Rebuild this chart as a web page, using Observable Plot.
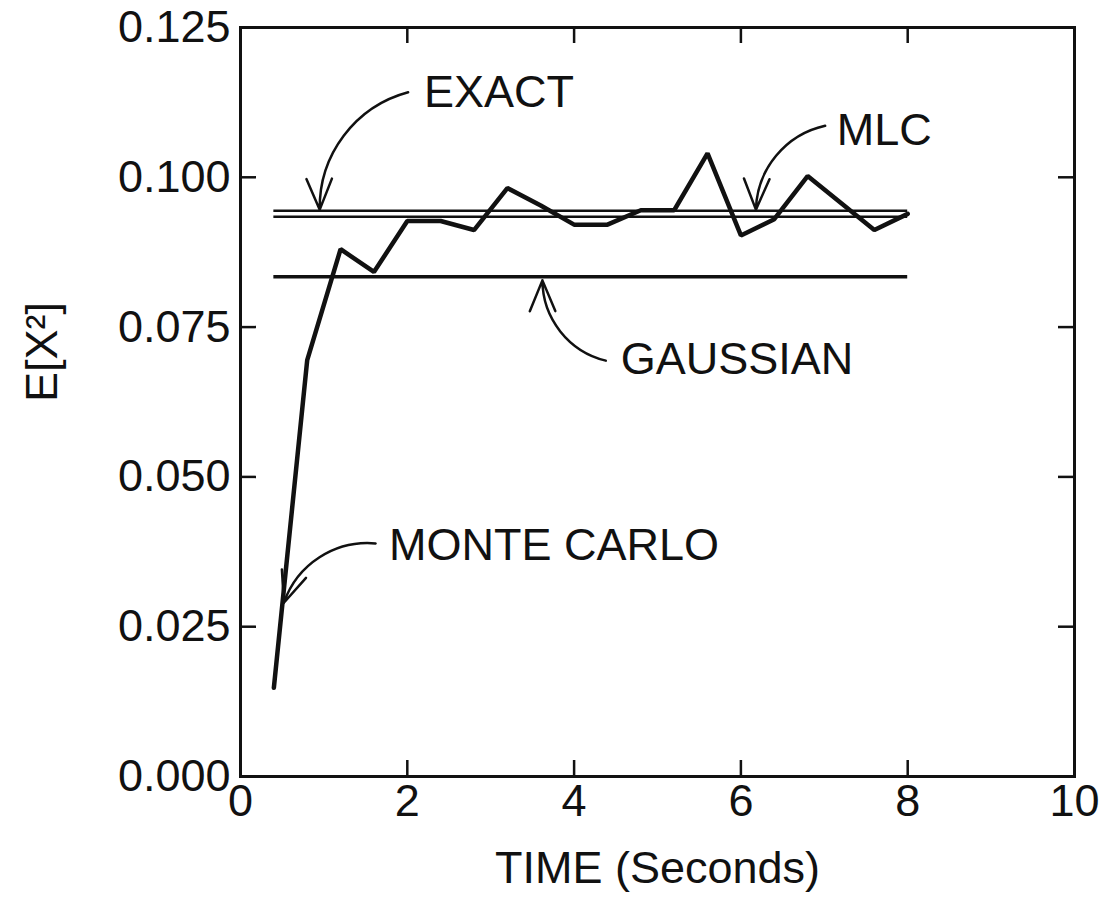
<!DOCTYPE html>
<html>
<head>
<meta charset="utf-8">
<script src="https://cdn.jsdelivr.net/npm/d3@7"></script>
<script src="https://cdn.jsdelivr.net/npm/@observablehq/plot@0.6"></script>
<style>
  html, body { margin: 0; padding: 0; background: #fff; }
  #chart svg { display: block; }
</style>
</head>
<body>
<div id="chart"></div>
<script>
// Monte Carlo estimate of E[X^2] vs time (seconds)
const mcTime  = [0.4, 0.8, 1.2, 1.6, 2.0, 2.4, 2.8, 3.2, 3.6, 4.0, 4.4, 4.8, 5.2, 5.6, 6.0, 6.4, 6.8, 7.2, 7.6, 8.0];
const mcValue = [0.0148, 0.0695, 0.0880, 0.0842, 0.0927, 0.0927, 0.0912, 0.0982, 0.0953, 0.0921, 0.0921, 0.0945, 0.0945, 0.1040, 0.0903, 0.0930, 0.1002, 0.0957, 0.0912, 0.0939];

// Constant reference levels
const levelNames  = ["EXACT", "MLC", "GAUSSIAN"];
const levelValues = [0.0944, 0.0934, 0.0834];
const levelStart  = [0.4, 0.4, 0.4];
const levelEnd    = [8.0, 8.0, 8.0];

// Annotation labels
const labelText = ["EXACT", "MLC", "GAUSSIAN", "MONTE CARLO"];
const labelX    = [2.2, 7.15, 4.56, 1.78];
const labelY    = [0.1142, 0.1078, 0.0696, 0.0385];

// Annotation arrows (tail -> head); group "cc" bends counter-clockwise, "cw" clockwise
const arrowGroup = ["cc", "cc", "cw", "cc"];
const arrowX1 = [2.01, 7.01, 4.38, 1.62];
const arrowY1 = [0.1142, 0.1086, 0.0694, 0.0389];
const arrowX2 = [0.95, 6.18, 3.62, 0.52];
const arrowY2 = [0.0946, 0.0946, 0.0828, 0.0290];

// Axis ticks
const xTicks = [0, 2, 4, 6, 8, 10];
const yTicks = [0, 0.025, 0.05, 0.075, 0.1, 0.125];

const mc = mcTime.map((t, i) => ({t, v: mcValue[i]}));
const levels = levelNames.map((n, i) => ({name: n, v: levelValues[i], x1: levelStart[i], x2: levelEnd[i]}));
const labels = labelText.map((s, i) => ({s, x: labelX[i], y: labelY[i]}));
const arrows = arrowX1.map((x1, i) => ({g: arrowGroup[i], x1, y1: arrowY1[i], x2: arrowX2[i], y2: arrowY2[i]}));

const FONT = "Liberation Sans, Arial, Helvetica, sans-serif";
const FS = 45;
const INK = "#111";
const W = 1099, H = 901, ML = 240, MR = 25, MT = 27, MB = 125;
const TICK = 16;
const frameW = W - ML - MR, frameH = H - MT - MB;

const arrowOpts = {x1: "x1", y1: "y1", x2: "x2", y2: "y2", stroke: INK, strokeWidth: 2.5, headLength: 20, headAngle: 45};

const chart = Plot.plot({
  width: W,
  height: H,
  marginLeft: ML,
  marginRight: MR,
  marginTop: MT,
  marginBottom: MB,
  style: {fontFamily: FONT, color: INK, background: "#fff"},
  x: {domain: [0, 10]},
  y: {domain: [0, 0.125]},
  marks: [
    Plot.frame({stroke: INK, strokeWidth: 3}),
    // tick labels
    Plot.axisX(xTicks, {anchor: "bottom", tickSize: 0, tickPadding: 8, fontSize: FS, tickFormat: d3.format("d"), label: null}),
    Plot.axisY(yTicks, {anchor: "left", tickSize: 0, tickPadding: 10, fontSize: FS, tickFormat: d3.format(".3f"), label: null}),
    // inward ticks on all four sides
    Plot.tickX(xTicks, {x: d => d, insetTop: frameH - TICK, stroke: INK, strokeWidth: 2.5}),
    Plot.tickX(xTicks, {x: d => d, insetBottom: frameH - TICK, stroke: INK, strokeWidth: 2.5}),
    Plot.tickY(yTicks, {y: d => d, insetRight: frameW - TICK, stroke: INK, strokeWidth: 2.5}),
    Plot.tickY(yTicks, {y: d => d, insetLeft: frameW - TICK, stroke: INK, strokeWidth: 2.5}),
    // constant levels
    Plot.ruleY(levels.filter(d => d.name !== "GAUSSIAN"), {y: "v", x1: "x1", x2: "x2", stroke: INK, strokeWidth: 2.5}),
    Plot.ruleY(levels.filter(d => d.name === "GAUSSIAN"), {y: "v", x1: "x1", x2: "x2", stroke: INK, strokeWidth: 3.5}),
    // Monte Carlo curve
    Plot.line(mc, {x: "t", y: "v", stroke: INK, strokeWidth: 4.5, strokeLinejoin: "miter", strokeLinecap: "round"}),
    // annotations
    Plot.arrow(arrows.filter(d => d.g === "cc"), {...arrowOpts, bend: -38}),
    Plot.arrow(arrows.filter(d => d.g === "cw"), {...arrowOpts, bend: 38}),
    Plot.text(labels, {x: "x", y: "y", text: "s", textAnchor: "start", fontSize: FS, fill: INK}),
    // axis titles
    Plot.text(["TIME (Seconds)"], {frameAnchor: "bottom", dy: 106, fontSize: FS, fill: INK}),
    Plot.text(["E[X²]"], {frameAnchor: "left", dx: -198, rotate: -90, fontSize: FS, fill: INK})
  ]
});

document.getElementById("chart").appendChild(chart);
</script>
</body>
</html>
